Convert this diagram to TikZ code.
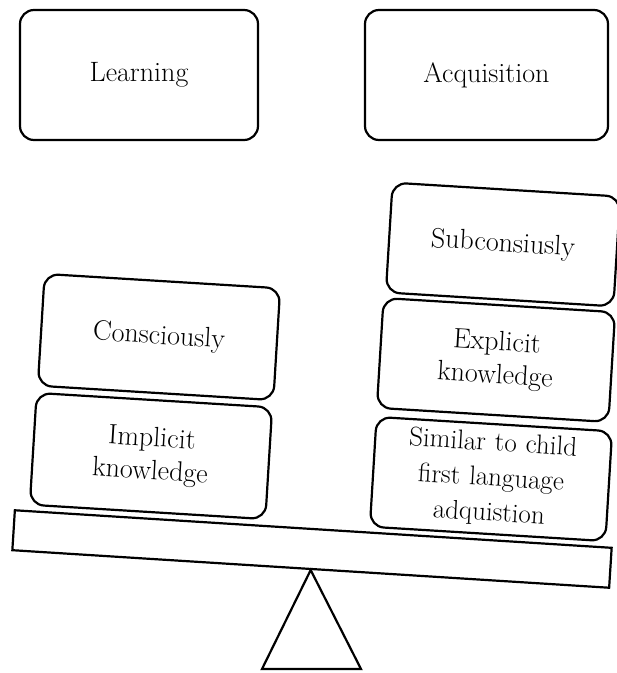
\documentclass[tikz,border=0pt]{standalone}
\usepackage{fontspec}
\begin{document}
\begin{tikzpicture}[x=1pt,y=1pt,
  card/.style={draw, line width=2.2pt, rounded corners=14pt, fill=white,
    align=center, inner sep=0pt, text width=225pt,
    font=\fontsize{28}{33}\selectfont},
  stackbox/.style={card, minimum width=236pt, minimum height=112pt, rotate=-3.5},
  beam/.style={draw, line width=2.2pt, fill=white, minimum width=598pt,
    minimum height=40pt, inner sep=0pt, rotate=-3.6}]
  \useasboundingbox (0,0) rectangle (617,-673);

  % the two headings
  \node[card, minimum width=238pt, minimum height=130pt] (learn) at (139,-75) {Learning};
  \node[card, minimum width=243pt, minimum height=130pt] (acq) at (486.5,-75) {Acquisition};

  % the tilted beam and its pivot
  \node[beam] (plank) at (312,-549) {};
  \coordinate (baseL) at (262,-669);
  \coordinate (baseR) at (361,-669);
  \draw[line width=2.2pt, line join=miter] (plank.south) -- (baseR) -- (baseL) -- cycle;

  % left pan
  \node[stackbox] (impl) at (151,-456) {Implicit\\knowledge};
  \node[stackbox] (cons) at (159,-337) {Consciously};

  % right pan
  \node[stackbox, minimum height=110pt, font=\fontsize{27}{35}\selectfont]
    (sim) at (491,-479) {Similar to child\\first language\\adquistion};
  \node[stackbox, minimum width=232pt, minimum height=110pt] (expl) at (496,-360) {Explicit\\knowledge};
  \node[stackbox, minimum width=228pt, minimum height=110pt] (sub) at (503,-244.5) {Subconsiusly};
\end{tikzpicture}
\end{document}
